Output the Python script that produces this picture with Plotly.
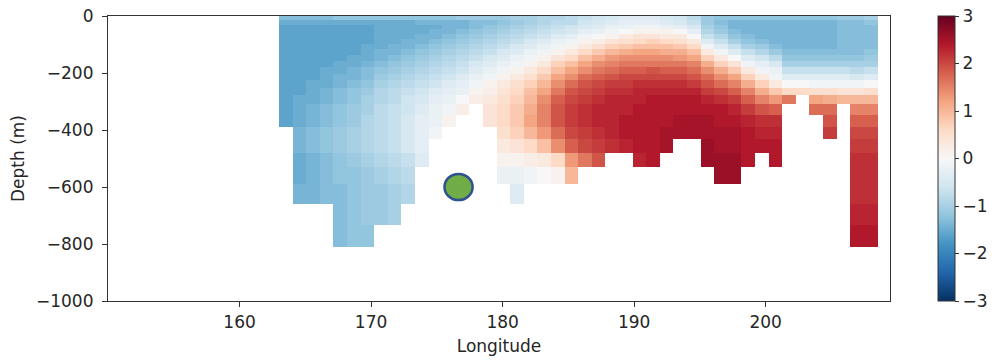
import numpy as np
import plotly.graph_objects as go

# ---- data -------------------------------------------------------------
# cell edges (depth in m, longitude in degrees E)
depth_edges = [0, 15, 30, 46, 62, 79, 97, 116, 136, 157, 179, 202, 226, 251,
               277, 310, 347, 388, 433, 482, 530, 590, 660, 733, 812]
lon_edges = list(np.linspace(163.0, 208.5, 45))

# temperature anomaly profiles, one list per longitude cell (surface -> bottom)
anom_profiles = [
    [-1.3,-1.5,-1.6,-1.6,-1.6,-1.6,-1.6,-1.6,-1.6,-1.6,-1.6,-1.6,-1.6,-1.6,-1.6,-1.6,-1.6],
    [-1.3,-1.5,-1.6,-1.6,-1.6,-1.6,-1.6,-1.6,-1.6,-1.6,-1.6,-1.6,-1.6,-1.6,-1.5,-1.5,-1.5,-1.4,-1.4,-1.5,-1.5,-1.4],
    [-1.3,-1.5,-1.6,-1.6,-1.6,-1.6,-1.6,-1.6,-1.6,-1.6,-1.6,-1.6,-1.5,-1.5,-1.5,-1.4,-1.4,-1.3,-1.3,-1.4,-1.4,-1.4],
    [-1.3,-1.5,-1.6,-1.6,-1.6,-1.6,-1.6,-1.6,-1.6,-1.6,-1.5,-1.5,-1.5,-1.4,-1.4,-1.3,-1.3,-1.2,-1.2,-1.3,-1.3,-1.3],
    [-1.2,-1.5,-1.6,-1.6,-1.6,-1.6,-1.6,-1.6,-1.6,-1.5,-1.5,-1.4,-1.4,-1.3,-1.3,-1.2,-1.2,-1.1,-1.1,-1.2,-1.2,-1.3,-1.3,-1.3],
    [-1.2,-1.5,-1.6,-1.6,-1.6,-1.6,-1.6,-1.6,-1.5,-1.5,-1.4,-1.4,-1.3,-1.2,-1.2,-1.1,-1.1,-1.0,-1.0,-1.1,-1.2,-1.2,-1.2,-1.2],
    [-1.2,-1.5,-1.6,-1.6,-1.6,-1.6,-1.5,-1.5,-1.5,-1.4,-1.3,-1.3,-1.2,-1.1,-1.0,-1.0,-0.9,-0.9,-0.9,-1.0,-1.1,-1.1,-1.1,-1.2],
    [-1.2,-1.5,-1.5,-1.5,-1.5,-1.5,-1.5,-1.4,-1.4,-1.3,-1.2,-1.1,-1.0,-0.9,-0.9,-0.8,-0.8,-0.8,-0.8,-0.9,-1.0,-1.1,-1.1],
    [-1.2,-1.5,-1.5,-1.5,-1.5,-1.5,-1.4,-1.4,-1.3,-1.2,-1.1,-1.0,-0.9,-0.8,-0.8,-0.7,-0.7,-0.7,-0.7,-0.8,-0.9,-1.0,-1.0],
    [-1.2,-1.5,-1.5,-1.5,-1.5,-1.4,-1.4,-1.3,-1.2,-1.1,-1.0,-0.9,-0.8,-0.7,-0.6,-0.6,-0.5,-0.5,-0.5,-0.7,-0.8,-0.9],
    [-1.2,-1.4,-1.5,-1.5,-1.4,-1.4,-1.3,-1.2,-1.1,-1.0,-0.9,-0.8,-0.7,-0.6,-0.5,-0.4,-0.3,-0.3,-0.3,-0.4],
    [-1.2,-1.4,-1.5,-1.4,-1.4,-1.3,-1.2,-1.1,-1.0,-0.9,-0.8,-0.7,-0.6,-0.4,-0.3,-0.2,-0.2,-0.1],
    [-1.2,-1.4,-1.4,-1.4,-1.3,-1.2,-1.1,-1.0,-0.9,-0.8,-0.7,-0.6,-0.4,-0.3,-0.2,-0.1,0.1],
    [-1.1,-1.4,-1.4,-1.3,-1.2,-1.1,-1.0,-0.9,-0.8,-0.7,-0.6,-0.4,-0.3,-0.2,0.0,0.2],
    [-1.1,-1.3,-1.3,-1.2,-1.1,-1.0,-0.9,-0.8,-0.7,-0.5,-0.4,-0.2,-0.1,0.1,0.2],
    [-1.1,-1.3,-1.2,-1.1,-1.0,-0.9,-0.8,-0.7,-0.5,-0.4,-0.2,-0.1,0.1,0.2,0.3,0.4,0.4],
    [-1.1,-1.2,-1.1,-1.0,-0.9,-0.8,-0.7,-0.5,-0.4,-0.2,-0.1,0.1,0.3,0.4,0.5,0.6,0.6,0.5,0.3,0.1,-0.2],
    [-1.0,-1.1,-1.0,-0.9,-0.8,-0.7,-0.5,-0.4,-0.2,-0.1,0.1,0.3,0.5,0.6,0.7,0.8,0.8,0.7,0.4,0.1,-0.2,-0.4],
    [-1.0,-1.0,-0.9,-0.8,-0.7,-0.5,-0.4,-0.2,-0.1,0.1,0.3,0.5,0.7,0.9,1.0,1.1,1.2,1.0,0.6,0.2,-0.1],
    [-0.9,-0.9,-0.8,-0.7,-0.6,-0.4,-0.2,-0.1,0.1,0.3,0.6,0.8,1.0,1.2,1.4,1.5,1.5,1.3,0.9,0.3,0.0],
    [-0.9,-0.8,-0.7,-0.6,-0.4,-0.2,-0.1,0.1,0.4,0.7,0.9,1.2,1.4,1.6,1.8,1.9,1.9,1.7,1.4,0.6,0.1],
    [-0.8,-0.8,-0.6,-0.5,-0.3,-0.1,0.1,0.3,0.6,0.9,1.2,1.4,1.7,1.9,2.0,2.1,2.1,2.0,1.8,1.3,1.0],
    [-0.7,-0.6,-0.5,-0.3,-0.1,0.1,0.3,0.6,0.9,1.2,1.4,1.7,1.9,2.0,2.1,2.2,2.2,2.1,2.0,1.6],
    [-0.6,-0.5,-0.4,-0.2,0.0,0.2,0.5,0.8,1.1,1.4,1.6,1.8,2.0,2.1,2.2,2.3,2.3,2.2,2.1,1.9],
    [-0.5,-0.4,-0.2,-0.1,0.1,0.4,0.7,1.0,1.3,1.5,1.7,1.9,2.1,2.2,2.3,2.3,2.3,2.3,2.2],
    [-0.4,-0.3,-0.2,0.0,0.3,0.5,0.8,1.1,1.4,1.6,1.8,2.0,2.1,2.2,2.3,2.3,2.4,2.4,2.3],
    [-0.4,-0.3,-0.1,0.1,0.4,0.6,0.9,1.2,1.4,1.6,1.8,2.0,2.2,2.3,2.3,2.4,2.4,2.4,2.4,2.3],
    [-0.4,-0.3,-0.1,0.1,0.4,0.7,0.9,1.2,1.4,1.6,1.9,2.0,2.2,2.3,2.4,2.4,2.4,2.4,2.4,2.4],
    [-0.5,-0.4,-0.2,0.1,0.3,0.6,0.9,1.1,1.4,1.6,1.8,2.0,2.2,2.3,2.4,2.4,2.4,2.5,2.5],
    [-0.6,-0.5,-0.3,0.0,0.3,0.5,0.8,1.1,1.3,1.6,1.8,2.0,2.2,2.3,2.4,2.4,2.5,2.5],
    [-0.8,-0.7,-0.5,-0.3,0.0,0.3,0.6,0.9,1.2,1.5,1.7,1.9,2.1,2.3,2.4,2.4,2.5,2.5],
    [-1.1,-1.1,-1.0,-0.9,-0.7,-0.4,-0.1,0.3,0.7,1.1,1.4,1.7,1.9,2.1,2.3,2.4,2.5,2.5,2.6,2.6],
    [-1.2,-1.3,-1.2,-1.1,-0.9,-0.7,-0.4,-0.1,0.3,0.7,1.1,1.4,1.7,2.0,2.2,2.4,2.4,2.5,2.5,2.6,2.6],
    [-1.2,-1.4,-1.4,-1.3,-1.2,-1.0,-0.7,-0.4,0.0,0.4,0.8,1.2,1.5,1.8,2.1,2.3,2.4,2.5,2.5,2.6,2.6],
    [-1.2,-1.4,-1.4,-1.4,-1.3,-1.2,-1.0,-0.7,-0.4,-0.1,0.3,0.7,1.1,1.5,1.8,2.1,2.3,2.4,2.4,2.4],
    [-1.2,-1.4,-1.4,-1.4,-1.4,-1.3,-1.1,-0.9,-0.6,-0.3,-0.1,0.3,0.7,1.1,1.5,1.9,2.2,2.3,2.4],
    [-1.2,-1.4,-1.4,-1.4,-1.4,-1.4,-1.3,-1.1,-0.8,-0.5,-0.2,-0.1,0.3,0.8,1.3,1.8,2.2,2.3,2.4,2.4],
    [-1.2,-1.4,-1.4,-1.4,-1.4,-1.4,-1.4,-1.3,-1.2,-1.0,-0.7,-0.4,0.0,0.6,1.6],
    [-1.2,-1.4,-1.4,-1.4,-1.4,-1.4,-1.4,-1.3,-1.2,-1.0,-0.7,-0.4,0.0,0.6],
    [-1.2,-1.4,-1.4,-1.4,-1.4,-1.4,-1.4,-1.3,-1.2,-1.0,-0.7,-0.4,-0.1,0.5,1.2,1.7],
    [-1.2,-1.4,-1.4,-1.4,-1.4,-1.4,-1.4,-1.3,-1.2,-1.0,-0.7,-0.4,-0.1,0.5,1.1,1.7,1.9,2.1],
    [-1.1,-1.3,-1.3,-1.3,-1.3,-1.3,-1.3,-1.3,-1.2,-1.0,-0.7,-0.4,-0.1,0.4,1.0],
    [-1.1,-1.3,-1.3,-1.3,-1.3,-1.3,-1.3,-1.3,-1.2,-1.0,-0.8,-0.5,-0.1,0.4,1.0,1.5,1.8,2.0,2.1,2.2,2.2,2.2,2.3,2.4],
    [-1.0,-1.2,-1.3,-1.3,-1.3,-1.3,-1.3,-1.2,-1.1,-1.0,-0.7,-0.4,0.0,0.5,1.0,1.5,1.8,2.0,2.1,2.2,2.2,2.2,2.3,2.4],
]

# observation site marker
site_lon = 176.65
site_depth = -600
site_half_width_deg = 1.07
site_half_height_m = 46

x_ticks = [160, 170, 180, 190, 200]
y_ticks = [0, -200, -400, -600, -800, -1000]
cbar_ticks = [-3, -2, -1, 0, 1, 2, 3]

# ---- build grid ---------------------------------------------------------
n_rows = len(depth_edges) - 1
z = []
for r in range(n_rows):
    row = []
    for prof in anom_profiles:
        row.append(prof[r] if r < len(prof) else None)
    z.append(row)
# ascending order in y (deep -> shallow)
z = z[::-1]
y_edges = [-d for d in depth_edges][::-1]

rdbu_r = ['rgb(5,48,97)', 'rgb(33,102,172)', 'rgb(67,147,195)', 'rgb(146,197,222)',
          'rgb(209,229,240)', 'rgb(247,247,247)', 'rgb(253,219,199)', 'rgb(244,165,130)',
          'rgb(214,96,77)', 'rgb(178,24,43)', 'rgb(103,0,31)']
colorscale = [[i / (len(rdbu_r) - 1), c] for i, c in enumerate(rdbu_r)]

FONT = "DejaVu Sans"
FS = 17
TXT = "#262626"
fig = go.Figure()
fig.add_trace(go.Heatmap(
    z=z, x=lon_edges, y=y_edges,
    colorscale=colorscale, zmin=-3, zmax=3,
    hoverongaps=False,
    colorbar=dict(
        thickness=17, len=1.0, lenmode="fraction", y=0.5, yanchor="middle",
        ypad=0, x=1.0614, xanchor="left", xpad=0,
        outlinewidth=1, outlinecolor="#333",
        tickvals=cbar_ticks, ticks="outside", ticklen=4, tickcolor="#333",
        tickfont=dict(family=FONT, size=FS, color=TXT),
    ),
))

fig.add_shape(
    type="circle", xref="x", yref="y",
    x0=site_lon - site_half_width_deg, x1=site_lon + site_half_width_deg,
    y0=site_depth - site_half_height_m, y1=site_depth + site_half_height_m,
    fillcolor="#70AD47", line=dict(color="#2F528F", width=2.5),
)

axis_common = dict(
    showgrid=False, zeroline=False, showline=True, linecolor="#333", linewidth=1.2,
    mirror=True, ticks="outside", ticklen=5, tickcolor="#333", automargin=False,
    tickfont=dict(family=FONT, size=FS, color=TXT),
)
fig.update_xaxes(range=[150, 209.45], tickvals=x_ticks,
                 title=dict(text="Longitude", font=dict(family=FONT, size=FS, color=TXT), standoff=9),
                 **axis_common)
fig.update_yaxes(range=[-1000, 0], tickvals=y_ticks, ticklabelstandoff=5,
                 title=dict(text="Depth (m)", font=dict(family=FONT, size=FS, color=TXT), standoff=7),
                 **axis_common)

fig.update_layout(
    width=994, height=361,
    margin=dict(l=108, r=104, t=16, b=60, autoexpand=False),
    paper_bgcolor="white", plot_bgcolor="white",
    showlegend=False,
)

fig.write_html("out.html")
